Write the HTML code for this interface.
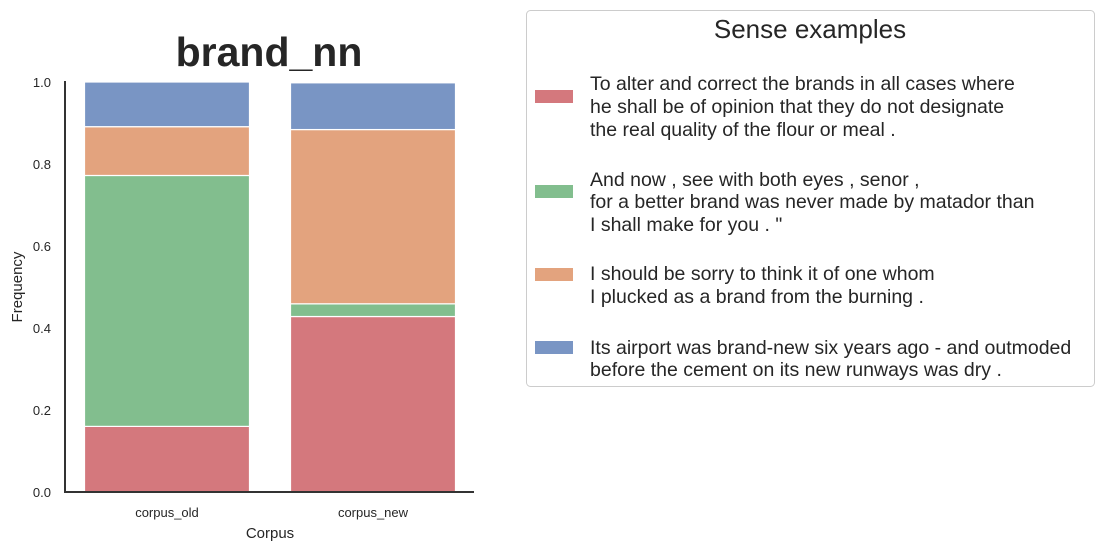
<!DOCTYPE html>
<html><head><meta charset="utf-8"><style>
body{margin:0;background:#fff;font-family:"Liberation Sans",Arial,sans-serif;}
svg text{font-family:"Liberation Sans",Arial,sans-serif;fill:#262626;}
</style></head><body>
<svg id="chart" width="1105" height="550" xmlns="http://www.w3.org/2000/svg">
<text x="269" y="66" font-size="41" font-weight="bold" text-anchor="middle">brand_nn</text>
<g id="bars"></g>
<g id="axes"></g>
<text x="270" y="538" font-size="15" text-anchor="middle">Corpus</text>
<text transform="translate(22,287) rotate(-90)" font-size="15" text-anchor="middle">Frequency</text>
<g>
<rect x="526.5" y="10.5" width="568" height="376" rx="4" fill="#fff" stroke="#ccc"/>
<text x="810" y="38" font-size="26" text-anchor="middle">Sense examples</text>
<g font-size="19.5">
<rect x="535" y="90" width="38" height="13" fill="#d4787d"/>
<text x="590" y="90">To alter and correct the brands in all cases where</text>
<text x="590" y="113">he shall be of opinion that they do not designate</text>
<text x="590" y="136">the real quality of the flour or meal .</text></g>
<g font-size="19.5">
<rect x="535" y="185" width="38" height="13" fill="#82be8e"/>
<text x="590" y="186">And now , see with both eyes , senor ,</text>
<text x="590" y="208">for a better brand was never made by matador than</text>
<text x="590" y="231">I shall make for you . "</text></g>
<g font-size="19.5">
<rect x="535" y="268" width="38" height="13" fill="#e3a37e"/>
<text x="590" y="280">I should be sorry to think it of one whom</text>
<text x="590" y="303">I plucked as a brand from the burning .</text></g>
<g font-size="19.5">
<rect x="535" y="341" width="38" height="13" fill="#7995c4"/>
<text x="590" y="354">Its airport was brand-new six years ago - and outmoded</text>
<text x="590" y="376">before the cement on its new runways was dry .</text></g>
</g>
</svg>
<script>
const categories = ["corpus_old", "corpus_new"];
const senseRed = [0.160, 0.428];
const senseGreen = [0.612, 0.031];
const senseOrange = [0.119, 0.425];
const senseBlue = [0.109, 0.114];
const yTicks = [0.0, 0.2, 0.4, 0.6, 0.8, 1.0];
const seriesList = [senseRed, senseGreen, senseOrange, senseBlue];
const seriesColors = ["#d4787d", "#82be8e", "#e3a37e", "#7995c4"];
const seriesNames = ["red", "green", "orange", "blue"];
const NS = "http://www.w3.org/2000/svg";
const y = v => 492 - v * 410;
const xc = i => 167 + i * 206;
const bw = 165;
const bars = document.getElementById("bars");
categories.forEach((c, i) => {
  let base = 0;
  seriesList.forEach((s, k) => {
    const r = document.createElementNS(NS, "rect");
    r.setAttribute("x", xc(i) - bw / 2);
    r.setAttribute("y", y(base + s[i]));
    r.setAttribute("width", bw);
    r.setAttribute("height", y(base) - y(base + s[i]));
    r.setAttribute("fill", seriesColors[k]);
    r.setAttribute("stroke", "#fff");
    r.setAttribute("stroke-width", "1.2");
    
    
    bars.appendChild(r);
    base += s[i];
  });
  const t = document.createElementNS(NS, "text");
  t.setAttribute("x", xc(i)); t.setAttribute("y", 517);
  t.setAttribute("font-size", "13"); t.setAttribute("text-anchor", "middle");
  t.textContent = c;
  
  
  bars.appendChild(t);
});
const axes = document.getElementById("axes");
axes.innerHTML = '<line x1="65" y1="81" x2="65" y2="492" stroke="#333" stroke-width="2"/><line x1="64" y1="492" x2="474" y2="492" stroke="#333" stroke-width="2"/>';


yTicks.forEach(v => {
  const t = document.createElementNS(NS, "text");
  t.setAttribute("x", 51); t.setAttribute("y", y(v) + 5);
  t.setAttribute("font-size", "13"); t.setAttribute("text-anchor", "end");
  t.textContent = v.toFixed(1);
  
  
  axes.appendChild(t);
});
</script>
</body></html>
